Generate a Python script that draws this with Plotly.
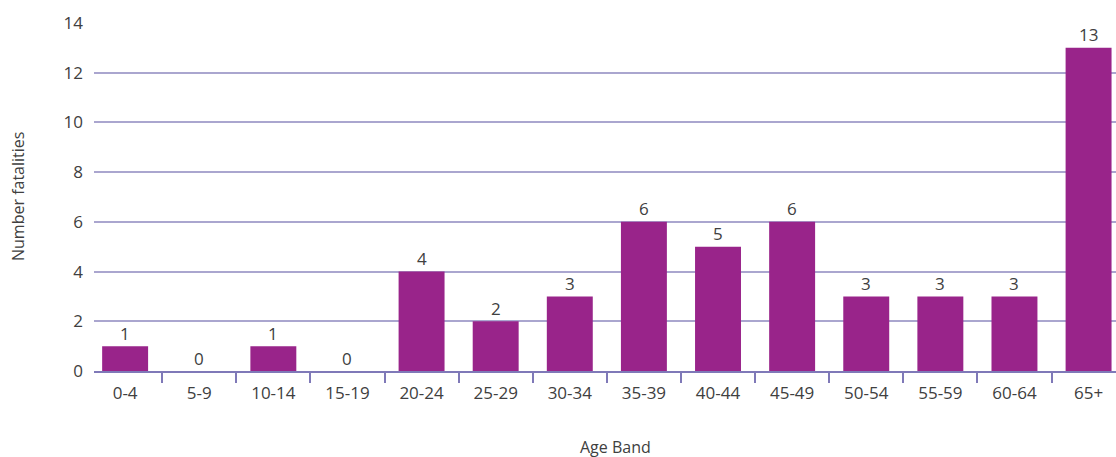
import plotly.graph_objects as go

# Fatalities by age band
age_bands = ["0-4", "5-9", "10-14", "15-19", "20-24", "25-29", "30-34",
             "35-39", "40-44", "45-49", "50-54", "55-59", "60-64", "65+"]
fatalities = [1, 0, 1, 0, 4, 2, 3, 6, 5, 6, 3, 3, 3, 13]
y_ticks = [0, 2, 4, 6, 8, 10, 12, 14]

W, H = 1116, 457
L, R, T, B = 94, 0, 23, 86

BAR = "#99248a"
GRID = "#aaa6cf"
AXIS = "#7f79b8"
TXT = "#404040"
FONT = "Open Sans, Noto Sans, sans-serif"
FS = 17

fig = go.Figure()
fig.add_trace(go.Bar(
    x=age_bands, y=fatalities,
    marker=dict(color=BAR, line=dict(width=0)),
    width=0.62,
    hoverinfo="x+y",
))

# value labels above each bar
for band, v in zip(age_bands, fatalities):
    fig.add_annotation(
        x=band, y=v, text=str(v), showarrow=False,
        xref="x", yref="y", yanchor="middle", yshift=13,
        font=dict(family=FONT, size=FS, color=TXT),
    )

# axis titles
fig.add_annotation(
    x=(615 - L) / (W - L - R), y=-(447 - (H - B)) / (H - T - B),
    xref="paper", yref="paper", text="Age Band", showarrow=False,
    xanchor="center", yanchor="middle",
    font=dict(family=FONT, size=FS - 1, color=TXT),
)
fig.add_annotation(
    x=-(L - 18) / (W - L - R), y=0.5,
    xref="paper", yref="paper", text="Number fatalities", showarrow=False,
    textangle=-90, xanchor="center", yanchor="middle",
    font=dict(family=FONT, size=FS - 1, color=TXT),
)

fig.update_layout(
    width=W, height=H,
    margin=dict(l=L, r=R, t=T, b=B),
    paper_bgcolor="white", plot_bgcolor="white",
    showlegend=False,
    font=dict(family=FONT, size=FS, color=TXT),
    bargap=0.38,
)
fig.update_xaxes(
    type="category",
    range=[-0.42, 13.37],
    showgrid=False,
    showline=True, linecolor=AXIS, linewidth=1.5,
    ticks="outside", tickson="boundaries", ticklen=10,
    tickcolor=AXIS, tickwidth=1.5,
    ticklabelstandoff=6,
    tickfont=dict(family=FONT, size=FS, color=TXT),
)
fig.update_yaxes(
    range=[0, 14],
    tickvals=y_ticks,
    showgrid=True, gridcolor=GRID, gridwidth=1.5,
    zeroline=False,
    showline=False,
    ticks="",
    ticklabelstandoff=10,
    tickfont=dict(family=FONT, size=FS, color=TXT),
)

fig.write_html("out.html")
